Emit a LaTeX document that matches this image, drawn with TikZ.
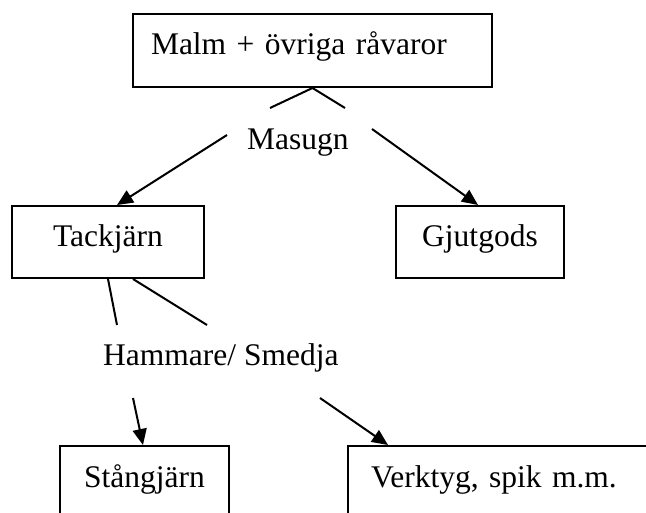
\documentclass[tikz,border=0pt]{standalone}
\usepackage{fontspec}
\setmainfont{Liberation Serif}
\usetikzlibrary{arrows.meta,calc}
\begin{document}
\begin{tikzpicture}[x=1pt,y=-1pt,
  txt/.style={font=\fontsize{31.5}{38}\selectfont, inner sep=0pt},
  box/.style={txt, draw, line width=2pt, anchor=base west, inner ysep=0pt},
  conn/.style={line width=2pt},
  arr/.style={conn, -{Triangle[length=16pt,width=14pt]}}]
\clip (0,0) rectangle (646,513);
% boxes
\node[box, inner xsep=18pt, text width=323pt, align=left, text height=41pt, text depth=32pt] (raw) at (132,55) {Malm + övriga råvaror};
\node[box, inner xsep=10pt, text width=172pt, align=center, text height=41pt, text depth=31pt] (tack) at (11,247) {Tackjärn};
\node[box, inner xsep=10pt, text width=148pt, align=center, text height=41pt, text depth=31pt] (gjut) at (395,247) {Gjutgods};
\node[box, inner xsep=10pt, text width=149pt, align=center, text height=41pt, text depth=70pt] (stang) at (59,487) {Stångjärn};
\node[box, inner xsep=23pt, text width=284pt, align=left, text height=41pt, text depth=70pt] (verk) at (347,487) {Verktyg, spik m.m.};
% labels
\node[txt, anchor=base west] (masugn) at (247,150) {Masugn};
\node[txt, anchor=base west] (hammare) at (103,366) {Hammare/ Smedja};
% free ends
\coordinate (a1) at (270,108);
\coordinate (a2) at (345,108);
\coordinate (b1) at (227,135);
\coordinate (b2) at (372,129);
\coordinate (c1) at (117,325);
\coordinate (c2) at (207,325);
\coordinate (d1) at (133,398);
\coordinate (d2) at (320,398);
% connectors
\draw[conn] (raw.south) -- (a1);
\draw[conn] (raw.south) -- (a2);
\draw[arr] (b1) -- ($(tack.north west)+(106,0)$);
\draw[arr] (b2) -- ($(gjut.north west)+(83,0)$);
\draw[conn] (tack.south) -- (c1);
\draw[conn] ([xshift=25pt]tack.south) -- (c2);
\draw[arr] (d1) -- ($(stang.north west)+(84,0)$);
\draw[arr] (d2) -- ($(verk.north west)+(41,0)$);
\end{tikzpicture}
\end{document}
